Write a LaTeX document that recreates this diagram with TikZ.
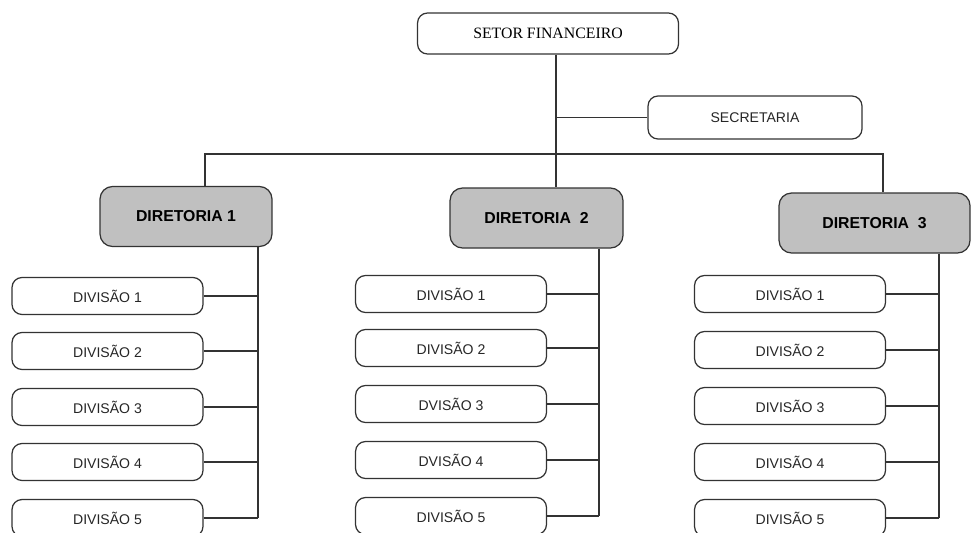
\documentclass[tikz,border=0pt]{standalone}
\usepackage{fontspec}
\setmainfont{Liberation Serif}
\setsansfont{Liberation Sans}
\definecolor{DirGray}{RGB}{192,192,192}

\begin{document}
\begin{tikzpicture}[x = 0.02cm, y = -0.02cm]
\tikzstyle{BoxStyle}=[shape = rectangle,
                      rounded corners = 0.2cm,
                      inner sep = 0pt,
                      line width = 0.7pt,
                      draw = black!80, fill = white]
\tikzstyle{TopStyle}=[BoxStyle, minimum width = 5.22cm, minimum height = 0.82cm,
                      font = \fontsize{9}{11}\selectfont]
\tikzstyle{SecStyle}=[BoxStyle, minimum width = 4.28cm, minimum height = 0.86cm,
                      font = \sffamily\fontsize{8}{10}\selectfont, text = black!85]
\tikzstyle{DirStyle}=[BoxStyle, rounded corners = 0.25cm, fill = DirGray,
                      minimum height = 1.2cm,
                      font = \sffamily\bfseries\fontsize{9}{11}\selectfont]
\tikzstyle{DivStyle}=[BoxStyle, minimum width = 3.82cm, minimum height = 0.74cm,
                      font = \sffamily\fontsize{8}{10}\selectfont, text = black!85]

\useasboundingbox (0,0) rectangle (973,532);
\clip (0,0) rectangle (973,532);

% top of the chart
\node[TopStyle] (setor) at (548,33.5) {SETOR FINANCEIRO};
\node[SecStyle] (sec) at (755,117.5) {SECRETARIA};

\node[DirStyle, minimum width = 3.44cm] (dir1) at (186,216.5) {DIRETORIA 1};
\node[DirStyle, minimum width = 3.46cm] (dir2) at (536.5,218) {DIRETORIA~~2};
\node[DirStyle, minimum width = 3.82cm] (dir3) at (874.5,223) {DIRETORIA~~3};

\coordinate (bus) at (556,154);
\coordinate (b1) at (205,154);
\coordinate (b3) at (883,154);
\coordinate (t1) at (258,0);
\coordinate (t2) at (599,0);
\coordinate (t3) at (939,0);

% divisions
\node[DivStyle] (a1) at (107.5,296) {DIVISÃO 1};
\node[DivStyle] (a2) at (107.5,351) {DIVISÃO 2};
\node[DivStyle] (a3) at (107.5,407) {DIVISÃO 3};
\node[DivStyle] (a4) at (107.5,462) {DIVISÃO 4};
\node[DivStyle] (a5) at (107.5,518) {DIVISÃO 5};

\node[DivStyle] (b1d) at (451,294) {DIVISÃO 1};
\node[DivStyle] (b2d) at (451,348) {DIVISÃO 2};
\node[DivStyle] (b3d) at (451,404) {DVISÃO 3};
\node[DivStyle] (b4d) at (451,460) {DVISÃO 4};
\node[DivStyle] (b5d) at (451,516) {DIVISÃO 5};

\node[DivStyle] (c1) at (790,294) {DIVISÃO 1};
\node[DivStyle] (c2) at (790,350) {DIVISÃO 2};
\node[DivStyle] (c3) at (790,406) {DIVISÃO 3};
\node[DivStyle] (c4) at (790,462) {DIVISÃO 4};
\node[DivStyle] (c5) at (790,518) {DIVISÃO 5};

% lines
\tikzset{every path/.style = {draw = black!80, line width = 0.7pt}}
\draw (setor.south -| bus) -- (bus);
\draw (sec.west) -- (sec.west -| bus);
\draw (dir1.north -| b1) -- (b1) -- (b3) -- (dir3.north -| b3);
\draw (bus) -- (dir2.north -| bus);

\draw (dir1.south -| t1) -- (a5.east -| t1);
\draw (a1.east) -- (a1.east -| t1) (a2.east) -- (a2.east -| t1)
      (a3.east) -- (a3.east -| t1) (a4.east) -- (a4.east -| t1)
      (a5.east) -- (a5.east -| t1);

\draw (dir2.south -| t2) -- (b5d.east -| t2);
\draw (b1d.east) -- (b1d.east -| t2) (b2d.east) -- (b2d.east -| t2)
      (b3d.east) -- (b3d.east -| t2) (b4d.east) -- (b4d.east -| t2)
      (b5d.east) -- (b5d.east -| t2);

\draw (dir3.south -| t3) -- (c5.east -| t3);
\draw (c1.east) -- (c1.east -| t3) (c2.east) -- (c2.east -| t3)
      (c3.east) -- (c3.east -| t3) (c4.east) -- (c4.east -| t3)
      (c5.east) -- (c5.east -| t3);
\end{tikzpicture}
\end{document}
